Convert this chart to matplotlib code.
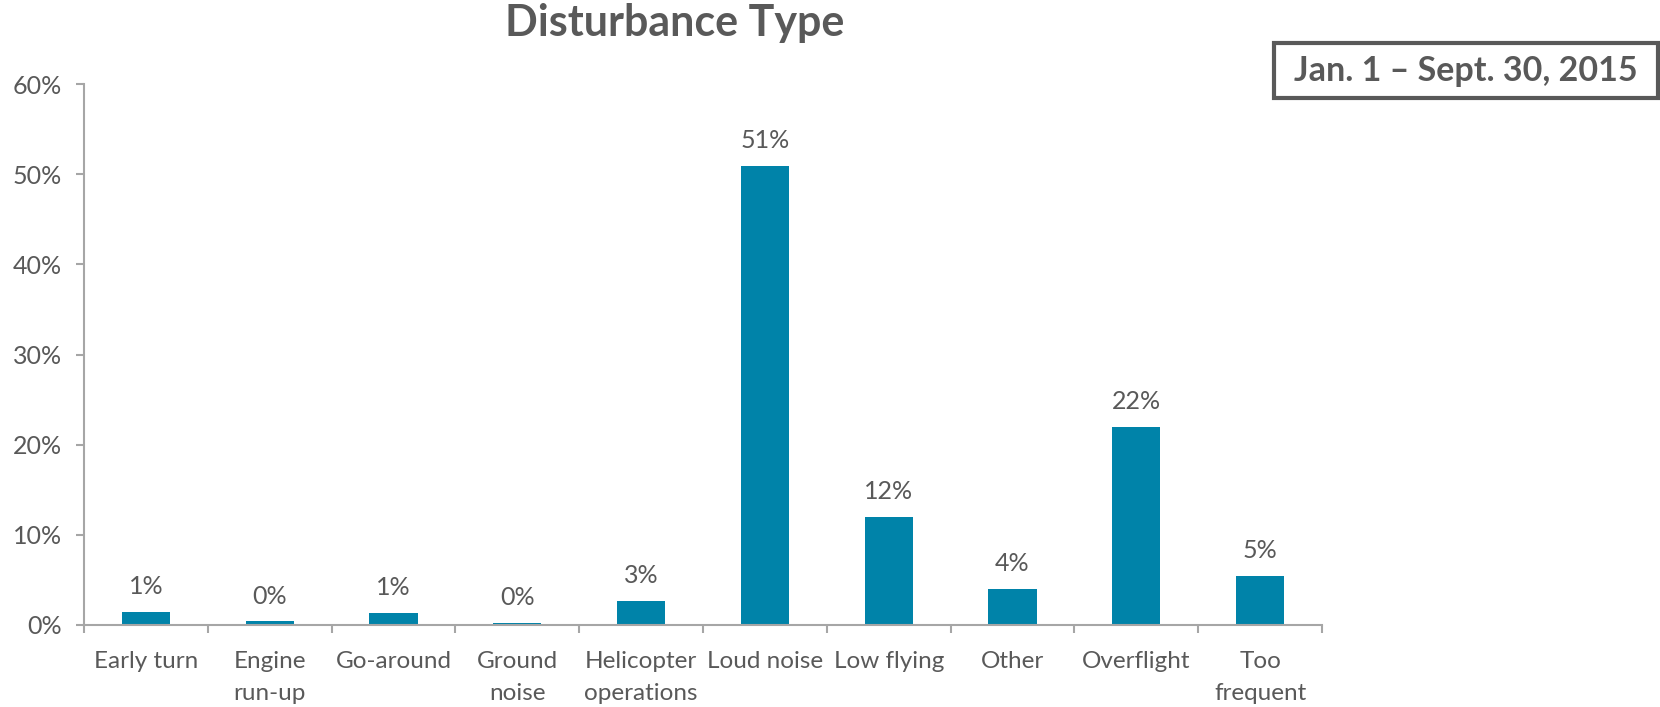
import matplotlib
matplotlib.use("Agg")
import matplotlib.pyplot as plt
from matplotlib.patches import Rectangle
from matplotlib.ticker import FuncFormatter, FixedLocator

plt.rcParams["font.family"] = ["Lato", "DejaVu Sans"]

categories = ["Early turn", "Engine\nrun-up", "Go-around", "Ground\nnoise",
              "Helicopter\noperations", "Loud noise", "Low flying", "Other",
              "Overflight", "Too\nfrequent"]
shares = [1.4, 0.4, 1.3, 0.2, 2.7, 50.9, 12.0, 4.0, 22.0, 5.4]
share_labels = ["1%", "0%", "1%", "0%", "3%", "51%", "12%", "4%", "22%", "5%"]
y_ticks = [0, 10, 20, 30, 40, 50, 60]

BAR = "#0083A9"
TXT = "#595959"
AXC = "#A6A6A6"
W, H = 1660, 707

fig = plt.figure(figsize=(W / 100, H / 100), dpi=100)
ax = fig.add_axes([84 / W, 1 - 625 / H, (1322 - 84) / W, (625 - 84) / H])

x = list(range(len(categories)))
ax.bar(x, shares, width=0.39, color=BAR)
for xi, v, lab in zip(x, shares, share_labels):
    ax.annotate(lab, (xi, v), xytext=(0, 10), textcoords="offset points",
                ha="center", va="bottom", fontsize=18, color=TXT)

ax.set_xlim(-0.5, len(categories) - 0.5)
ax.set_ylim(0, 60)
ax.set_yticks(y_ticks)
ax.yaxis.set_major_formatter(FuncFormatter(lambda v, _: f"{v:.0f}%"))
ax.xaxis.set_major_locator(FixedLocator([i - 0.5 for i in range(len(categories) + 1)]))
ax.xaxis.set_major_formatter(FuncFormatter(lambda v, _: ""))
ax.set_xticks(x, minor=True)
ax.set_xticklabels(categories, minor=True, fontsize=17.5, color=TXT, linespacing=1.6)
ax.tick_params(axis="x", which="minor", length=0, pad=19)
ax.tick_params(axis="x", which="major", length=6, color=AXC, width=1.5)
ax.tick_params(axis="y", length=6, color=AXC, width=1.5, labelsize=18,
               labelcolor=TXT, pad=10)

for s in ("top", "right"):
    ax.spines[s].set_visible(False)
for s in ("left", "bottom"):
    ax.spines[s].set_color(AXC)
    ax.spines[s].set_linewidth(1.5)

fig.text(675 / W, 1 - 23 / H, "Disturbance Type", ha="center", va="center",
         fontsize=31, fontweight="bold", color=TXT)

fig.patches.append(Rectangle((1274 / W, 1 - 98 / H), (1658 - 1274) / W, 55 / H,
                             transform=fig.transFigure, facecolor="white",
                             edgecolor=TXT, linewidth=3))
fig.text(1466 / W, 1 - 71 / H, "Jan. 1 \u2013 Sept. 30, 2015", ha="center",
         va="center", fontsize=24.5, fontweight="bold", color=TXT)

fig.savefig("out.png", dpi=100)
